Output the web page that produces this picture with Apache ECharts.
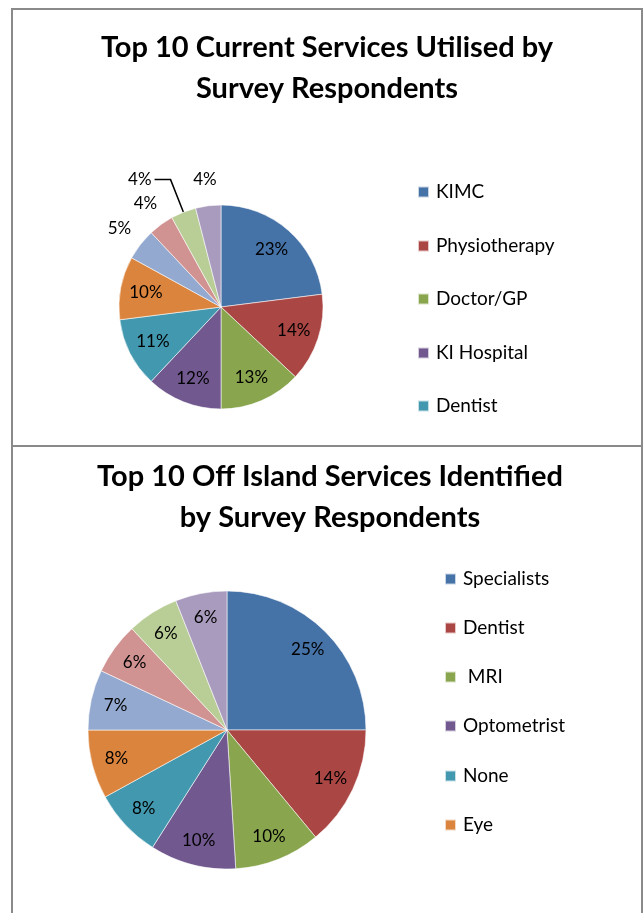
<!DOCTYPE html>
<html>
<head>
<meta charset="utf-8">
<script src="https://cdn.jsdelivr.net/npm/echarts@6/dist/echarts.min.js"></script>
<style>
  html, body { margin: 0; padding: 0; background: #fff; }
  #page { position: relative; width: 644px; height: 913px; overflow: hidden; background: #fff; }
  #currentChart { position: absolute; left: 0; top: 0; width: 644px; height: 446px; }
  #offIslandChart { position: absolute; left: 0; top: 446px; width: 644px; height: 467px; }
  .frame { position: absolute; border: 2px solid #8a8a8a; box-sizing: border-box; pointer-events: none; }
</style>
</head>
<body>
<div id="page">
  <div id="currentChart"></div>
  <div id="offIslandChart"></div>
  <div class="frame" style="left:11px; top:8px; width:632px; height:439px;"></div>
  <div class="frame" style="left:11px; top:445px; width:632px; height:490px;"></div>
</div>
<script>
// Survey results (percent of respondents)
const currentTitle = 'Top 10 Current Services Utilised by\nSurvey Respondents';
const currentNames = ['KIMC', 'Physiotherapy', 'Doctor/GP', 'KI Hospital', 'Dentist',
                      'Service 6', 'Service 7', 'Service 8', 'Service 9', 'Service 10'];
const currentValues = [23, 14, 13, 12, 11, 10, 5, 4, 4, 4];
const currentLegendCount = 5;

const offIslandTitle = 'Top 10 Off Island Services Identified\nby Survey Respondents';
const offIslandNames = ['Specialists', 'Dentist', ' MRI', 'Optometrist', 'None', 'Eye',
                        'Service 7', 'Service 8', 'Service 9', 'Service 10'];
const offIslandValues = [25, 14, 10, 10, 8, 8, 7, 6, 6, 6];
const offIslandLegendCount = 6;

// Office-style slice colours
const palette = ['#4572A7', '#AA4643', '#89A54E', '#71588F', '#4198AF',
                 '#DB843D', '#93A9CF', '#D19392', '#B9CD96', '#A99BBD'];

const FONT = 'Lato, "Open Sans", "Liberation Sans", sans-serif';
const labelText = { color: '#000', fontSize: 17, fontFamily: FONT };

// Builds the pie plus transparent rings that carry the percentage labels
function buildPie(names, values, center, r, innerRatio, calloutIndex) {
  const main = {
    type: 'pie', center: center, radius: r, startAngle: 90, clockwise: true,
    avoidLabelOverlap: false,
    labelLayout: { hideOverlap: false },
    itemStyle: { borderColor: 'rgba(255,255,255,0.7)', borderWidth: 0.8 },
    label: { show: false },
    labelLine: { show: false },
    emphasis: { scale: false },
    data: names.map((n, i) => {
      const item = { name: n, value: values[i], itemStyle: { color: palette[i] } };
      if (i === calloutIndex) {
        item.label = Object.assign({ show: true, position: 'outside', formatter: '{c}%', distanceToLabelLine: 3 }, labelText);
        item.labelLine = { show: true, length: 35, length2: 16, smooth: false, lineStyle: { color: '#000', width: 1.5 } };
      }
      return item;
    })
  };
  const innerRing = {
    type: 'pie', center: center, radius: [r * innerRatio, r], startAngle: 90, clockwise: true,
    silent: true, avoidLabelOverlap: false,
    labelLayout: { hideOverlap: false },
    itemStyle: { color: 'transparent', borderWidth: 0 },
    label: Object.assign({ position: 'inside', formatter: '{c}%' }, labelText),
    labelLine: { show: false },
    data: names.map((n, i) => ({ name: n, value: values[i], label: { show: values[i] >= 6 } }))
  };
  const series = [main, innerRing];
  if (values.some(v => v < 6)) {
    series.push({
      type: 'pie', center: center, radius: [r, r * 1.46], startAngle: 90, clockwise: true,
      silent: true, avoidLabelOverlap: false,
      labelLayout: { hideOverlap: false },
      itemStyle: { color: 'transparent', borderWidth: 0 },
      label: Object.assign({ position: 'inside', formatter: '{c}%' }, labelText),
      labelLine: { show: false },
      data: names.map((n, i) => ({ name: n, value: values[i], label: { show: values[i] < 6 && i !== calloutIndex } }))
    });
  }
  return series;
}

// One legend per entry so each row sits at its own height; textShift nudges the text against its swatch
function buildLegends(names, count, left, centersY, textShift) {
  return names.slice(0, count).map((n, i) => {
    const d = textShift[i];
    return {
      data: [n], left: left, top: centersY[i] - 11 - Math.abs(d), orient: 'vertical', padding: 0,
      icon: 'rect', itemWidth: 11, itemHeight: 11, selectedMode: false,
      textStyle: {
        fontSize: 19, fontFamily: FONT, color: '#000', lineHeight: 22,
        padding: [d > 0 ? 2 * d : 0, 0, d < 0 ? -2 * d : 0, 2]
      }
    };
  });
}

function buildTitle(text, x, y) {
  return {
    text: text, left: x, top: y, textAlign: 'center', padding: 0,
    textStyle: { fontSize: 29, fontWeight: 'bold', fontFamily: FONT, color: '#000', lineHeight: 41 }
  };
}

const currentChart = echarts.init(document.getElementById('currentChart'));
currentChart.setOption({
  animation: false,
  title: buildTitle(currentTitle, 327, 27),
  legend: buildLegends(currentNames, currentLegendCount, 417,
                       [192, 246, 299, 353, 406], [-2, 3, -3, 2, -1]),
  series: buildPie(currentNames, currentValues, [221, 307], 102, 0.44, 8)
});

const offIslandChart = echarts.init(document.getElementById('offIslandChart'));
offIslandChart.setOption({
  animation: false,
  title: buildTitle(offIslandTitle, 330, 10),
  legend: buildLegends(offIslandNames, offIslandLegendCount, 444,
                       [133, 182, 231, 280, 330, 379], [2, -1, 5, 1, -3, -2]),
  series: buildPie(offIslandNames, offIslandValues, [227, 284], 139, 0.6, -1)
});
</script>
</body>
</html>
